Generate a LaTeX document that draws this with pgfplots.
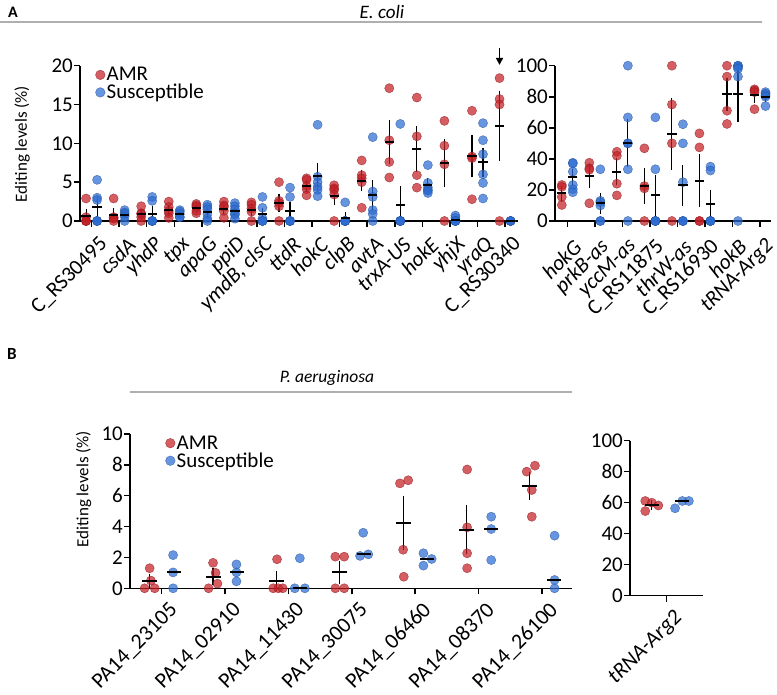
\documentclass[border=0pt]{standalone}
\usepackage{fontspec}
\setmainfont{Carlito}
\usepackage{pgfplots}
\usepackage{pgfplotstable}
\pgfplotsset{compat=1.18}
\usetikzlibrary{arrows.meta}

\definecolor{amr}{RGB}{195,32,38}
\definecolor{sus}{RGB}{45,108,210}
\definecolor{rulegray}{RGB}{175,175,175}
\newcommand{\fsize}[1]{\fontsize{#1pt}{#1pt}\selectfont}

% ---------- E. coli, low-level sites (AMR at k-0.2, susceptible at k+0.2)
\pgfplotstableread{
x y
-0.2 2.9
-0.2 0.5
-0.2 0
-0.2 0
-0.2 0
0.8 2.9
0.8 0.5
0.8 0.4
0.8 0.3
0.8 0
1.8 1.9
1.8 1.0
1.8 0.9
1.8 0.5
1.8 0
2.8 2.5
2.8 1.8
2.8 1.3
2.8 1.0
2.8 0.4
3.8 2.2
3.8 2.0
3.8 1.8
3.8 1.3
3.8 1.0
4.8 2.5
4.8 2.0
4.8 1.8
4.8 1.3
4.8 0.4
5.8 2.4
5.8 2.1
5.8 1.6
5.8 1.2
5.8 0
6.8 5.0
6.8 2.6
6.8 2.3
6.8 1.9
6.8 0
7.8 5.5
7.8 5.3
7.8 4.5
7.8 4.1
7.8 3.3
8.8 4.6
8.8 4.2
8.8 4.0
8.8 3.4
8.8 0
9.8 7.8
9.8 5.9
9.8 5.5
9.8 5.0
9.8 1.7
10.8 17.1
10.8 10.4
10.8 7.6
10.8 5.6
11.8 15.9
11.8 10.9
11.8 5.9
11.8 4.3
12.8 12.9
12.8 9.7
12.8 7.3
12.8 0
13.8 14.2
13.8 8.3
13.8 8.1
13.8 2.8
14.8 18.4
14.8 15.7
14.8 15.0
14.8 0
}\ecoliLowAMR

\pgfplotstableread{
x y
0.2 5.3
0.2 3.0
0.2 2.7
0.2 0
0.2 0
0.2 0
1.2 1.4
1.2 1.1
1.2 0.9
1.2 0.6
1.2 0
2.2 3.1
2.2 2.6
2.2 0
2.2 0
2.2 0
2.2 0
3.2 1.4
3.2 1.2
3.2 0.9
3.2 0.5
3.2 0.5
4.2 2.1
4.2 1.8
4.2 1.5
4.2 0.9
4.2 0.3
4.2 0
5.2 2.3
5.2 1.9
5.2 1.5
5.2 1.0
5.2 0.8
5.2 0.3
6.2 3.1
6.2 1.7
6.2 0.3
6.2 0
6.2 0
6.2 0
7.2 4.3
7.2 3.1
7.2 0
7.2 0
7.2 0
7.2 0
8.2 12.4
8.2 5.7
8.2 5.0
8.2 4.4
8.2 4.0
8.2 3.2
9.2 2.4
9.2 0
9.2 0
9.2 0
9.2 0
9.2 0
10.2 10.8
10.2 3.8
10.2 3.1
10.2 1.4
10.2 0.9
10.2 0
11.2 12.5
11.2 0
11.2 0
11.2 0
11.2 0
11.2 0
12.2 7.2
12.2 4.9
12.2 4.3
12.2 4.0
12.2 3.9
12.2 3.6
13.2 0.7
13.2 0.4
13.2 0
13.2 0
13.2 0
13.2 0
14.2 12.6
14.2 10.4
14.2 8.6
14.2 6.0
14.2 4.9
14.2 2.9
15.2 0
15.2 0
15.2 0
15.2 0
}\ecoliLowSus

% mean and SEM
\pgfplotstableread{
x m e
-0.2 0.68 0.56
0.8 0.82 0.53
1.8 0.86 0.31
2.8 1.40 0.36
3.8 1.66 0.22
4.8 1.60 0.36
5.8 1.46 0.42
6.8 2.36 0.80
7.8 4.54 0.40
8.8 3.24 0.83
9.8 5.18 0.99
10.8 10.18 2.51
11.8 9.25 2.62
12.8 7.48 2.74
13.8 8.35 2.33
14.8 12.28 4.16
}\ecoliLowAMRmean

\pgfplotstableread{
x m e
0.2 1.83 0.90
1.2 0.80 0.24
2.2 0.95 0.60
3.2 0.90 0.18
4.2 1.10 0.34
5.2 1.30 0.30
6.2 0.85 0.52
7.2 1.23 0.80
8.2 5.78 1.37
9.2 0.40 0.40
10.2 3.33 1.60
11.2 2.08 2.08
12.2 4.65 0.54
13.2 0.18 0.12
14.2 7.57 1.48
15.2 0 0
}\ecoliLowSusmean

% ---------- E. coli, high-level sites
\pgfplotstableread{
x y
-0.2 23.2
-0.2 22.0
-0.2 15.5
-0.2 10.3
0.8 37.5
0.8 34
0.8 33
0.8 11.4
1.8 44.6
1.8 42
1.8 24
1.8 16.5
2.8 46.8
2.8 22.5
2.8 21
2.8 0
3.8 100
3.8 75
3.8 50
3.8 0
4.8 56.4
4.8 47.4
4.8 0
4.8 0
5.8 100
5.8 93
5.8 71
5.8 62.5
6.8 84.8
6.8 84
6.8 83
6.8 72
}\ecoliHighAMR

\pgfplotstableread{
x y
0.2 37.5
0.2 37.0
0.2 31.8
0.2 23.2
0.2 20.5
0.2 18.5
1.2 33.3
1.2 13
1.2 12
1.2 10
1.2 0
1.2 0
2.2 100
2.2 66.7
2.2 50
2.2 50
2.2 33.3
2.2 0
3.2 66.7
3.2 33.3
3.2 0
3.2 0
3.2 0
3.2 0
4.2 62.3
4.2 50
4.2 25
4.2 0
4.2 0
4.2 0
5.2 35
5.2 32.5
5.2 0
5.2 0
5.2 0
5.2 0
6.2 100
6.2 100
6.2 99
6.2 98
6.2 93
6.2 0
7.2 83
7.2 82
7.2 81
7.2 80
7.2 74
}\ecoliHighSus

\pgfplotstableread{
x m e
-0.2 17.75 3.0
0.8 28.98 5.94
1.8 31.78 6.84
2.8 22.58 9.57
3.8 56.25 21.3
4.8 25.95 15.1
5.8 81.6 8.9
6.8 80.95 3.0
}\ecoliHighAMRmean

\pgfplotstableread{
x m e
0.2 28.08 3.44
1.2 11.38 4.98
2.2 50 13.6
3.2 16.67 11.4
4.2 22.88 11.35
5.2 11.25 7.1
6.2 81.67 16.4
7.2 80 1.58
}\ecoliHighSusmean

% ---------- P. aeruginosa
\pgfplotstableread{
x y
-0.27 0
-0.19 1.3
-0.17 0.5
-0.11 0
0.74 0
0.81 1.65
0.85 1.0
0.88 0.3
1.76 0
1.82 1.88
1.84 0
1.91 0
2.74 2.05
2.88 2.05
2.74 0
2.88 0
3.76 6.8
3.89 7.0
3.81 2.5
3.82 0.75
4.82 7.7
4.82 3.95
4.82 2.27
4.82 1.3
5.76 7.56
5.89 7.95
5.84 6.37
5.84 4.64
}\paLowAMR

\pgfplotstableread{
x y
0.18 2.15
0.18 1.03
0.18 0
1.18 1.55
1.18 1.03
1.18 0.45
2.10 0
2.18 1.95
2.26 0
3.18 3.6
3.13 2.1
3.26 2.2
4.13 2.27
4.13 1.47
4.26 1.9
5.2 4.64
5.2 3.84
5.2 1.83
6.2 3.41
6.2 0.54
6.2 0
}\paLowSus

\pgfplotstableread{
x m e
-0.19 0.45 0.31
0.81 0.74 0.37
1.81 0.47 0.47
2.81 1.03 0.59
3.81 4.26 1.57
4.81 3.81 1.41
5.81 6.63 0.74
}\paLowAMRmean

\pgfplotstableread{
x m
0.19 1.03
1.19 1.03
2.19 0
3.19 2.2
4.19 1.9
5.19 3.84
6.19 0.54
}\paLowSusmed

\pgfplotstableread{
x y
-0.29 61.1
-0.29 54.6
-0.20 60.0
-0.11 58.2
}\paHighAMR

\pgfplotstableread{
x y
0.12 56.4
0.22 61.1
0.31 61.1
}\paHighSus

\pgfplotstableread{
x m e
-0.2 58.5 1.42
}\paHighAMRmean

\pgfplotstableread{
x m
0.22 61.1
}\paHighSusmed

\pgfplotsset{
  panel/.style={
    scale only axis, anchor=south west, clip=false,
    axis x line*=bottom, axis y line*=left,
    axis line style={line width=1.5pt, -},
    tick style={line width=1.5pt, black},
    tick align=outside, major tick length=6pt,
    ymin=0,
    /pgf/number format/assume math mode=true,
    yticklabel style={font=\fsize{21}, inner sep=1pt},
    xticklabel style={font=\fsize{21.5}, rotate=45, anchor=east, inner sep=1pt,
      yshift=-19pt, xshift=0pt},
    legend cell align=left,
    legend style={draw=none, fill=none, font=\fsize{21}, inner sep=0pt,
      nodes={inner sep=1.5pt}, row sep=-1pt},
  },
  bigcats/.style={xticklabel style={font=\fsize{21.8}, inner sep=0pt, yshift=1pt}},
  amrpts/.style={only marks, mark=*, mark size=4.6pt,
    mark options={fill=amr, draw=amr!75!black, line width=0.4pt, opacity=0.72},
    legend image code/.code={\draw[mark=*, mark size=4.8pt,
      mark options={fill=amr, draw=amr!75!black, line width=0.4pt, opacity=0.72}]
      plot coordinates {(0pt,0pt)};}},
  suspts/.style={only marks, mark=*, mark size=4.6pt,
    mark options={fill=sus, draw=sus!75!black, line width=0.4pt, opacity=0.72},
    legend image code/.code={\draw[mark=*, mark size=4.8pt,
      mark options={fill=sus, draw=sus!75!black, line width=0.4pt, opacity=0.72}]
      plot coordinates {(0pt,0pt)};}},
  meanbar/.style={only marks, mark=-, mark size=#1, forget plot,
    mark options={line width=2pt, black},
    error bars/.cd, y dir=both, y explicit,
    error bar style={line width=1.1pt, black},
    error mark options={mark size=2.8pt, line width=1.1pt, black}},
  medbar/.style={only marks, mark=-, mark size=#1, forget plot,
    mark options={line width=2pt, black}},
}

\begin{document}
\begin{tikzpicture}
\useasboundingbox (0,0) rectangle (777pt,694pt);

% headers
\node[font=\bfseries\fsize{16}] at (13pt,682pt) {A};
\node[font=\itshape\fsize{19}] at (382pt,682pt) {E. coli};
\draw[rulegray, line width=1.2pt] (0pt,672pt) -- (762pt,672pt);
\node[font=\bfseries\fsize{17}] at (12pt,340pt) {B};
\node[font=\itshape\fsize{17.5}] at (327pt,316pt) {P. aeruginosa};
\draw[rulegray, line width=1.2pt] (130pt,302pt) -- (572pt,302pt);

% axis titles
\node[rotate=90, font=\fsize{17}] at (22pt,550pt) {Editing levels (\%)};
\node[rotate=90, font=\fsize{17}] at (83.5pt,205pt) {Editing levels (\%)};

% ----- A, left
\begin{axis}[panel, at={(80pt,473pt)}, width=438pt, height=155.3pt,
  xmin=-0.42, xmax=15.47, ymax=20, ytick={0,5,10,15,20},
  xtick={0,...,15},
  xticklabels={C\_RS30495,\textit{csdA},\textit{yhdP},\textit{tpx},\textit{apaG},
    \textit{ppiD},{\textit{ymdB, clsC}},\textit{ttdR},\textit{hokC},\textit{clpB},
    \textit{avtA},\textit{trxA-US},\textit{hokE},\textit{yhjX},\textit{yraQ},C\_RS30340},
  legend style={at={(axis description cs:0.035,1.0)}, anchor=north west}]
\addplot[amrpts] table[x=x,y=y] {\ecoliLowAMR};
\addlegendentry{AMR}
\addplot[suspts] table[x=x,y=y] {\ecoliLowSus};
\addlegendentry{Susceptible}
\addplot[meanbar=4.6pt] table[x=x,y=m,y error=e] {\ecoliLowAMRmean};
\addplot[meanbar=4.6pt] table[x=x,y=m,y error=e] {\ecoliLowSusmean};
\draw[line width=1.6pt, -{Triangle[length=7pt,width=7pt]}]
  (axis cs:14.8,22.3) -- (axis cs:14.8,20.1);
\end{axis}

% ----- A, right
\begin{axis}[panel, at={(555pt,473pt)}, width=216pt, height=155.3pt,
  xmin=-0.447, xmax=7.4, ymax=100, ytick={0,20,...,100},
  xtick={0,...,7},
  xticklabels={\textit{hokG},\textit{prkB-as},\textit{yccM-as},C\_RS11875,
    \textit{thrW-as},C\_RS16930,\textit{hokB},\textit{tRNA-Arg2}},
  xticklabel style={xshift=-3pt}]
\addplot[amrpts] table[x=x,y=y] {\ecoliHighAMR};
\addplot[suspts] table[x=x,y=y] {\ecoliHighSus};
\addplot[meanbar=4.6pt] table[x=x,y=m,y error=e] {\ecoliHighAMRmean};
\addplot[meanbar=4.6pt] table[x=x,y=m,y error=e] {\ecoliHighSusmean};
\end{axis}

% ----- B, left
\begin{axis}[panel, bigcats, at={(130pt,105.7pt)}, width=441.7pt, height=154.3pt,
  xmin=-0.5, xmax=6.47, ymax=10, ytick={0,2,...,10},
  xtick={0,...,6},
  xticklabels={PA14\_23105,PA14\_02910,PA14\_11430,PA14\_30075,PA14\_06460,
    PA14\_08370,PA14\_26100},
  legend style={at={(axis description cs:0.08,1.0)}, anchor=north west}]
\addplot[amrpts] table[x=x,y=y] {\paLowAMR};
\addlegendentry{AMR}
\addplot[suspts] table[x=x,y=y] {\paLowSus};
\addlegendentry{Susceptible}
\addplot[meanbar=7.5pt] table[x=x,y=m,y error=e] {\paLowAMRmean};
\addplot[medbar=7pt] table[x=x,y=m] {\paLowSusmed};
\end{axis}

% ----- B, right
\begin{axis}[panel, bigcats, at={(630pt,98.3pt)}, width=72.7pt, height=155pt,
  xmin=-0.5, xmax=0.5, ymax=100, ytick={0,20,...,100},
  xtick={0}, xticklabels={\textit{tRNA-Arg2}}]
\addplot[amrpts] table[x=x,y=y] {\paHighAMR};
\addplot[suspts] table[x=x,y=y] {\paHighSus};
\addplot[meanbar=7pt] table[x=x,y=m,y error=e] {\paHighAMRmean};
\addplot[medbar=7pt] table[x=x,y=m] {\paHighSusmed};
\end{axis}
\end{tikzpicture}
\end{document}
